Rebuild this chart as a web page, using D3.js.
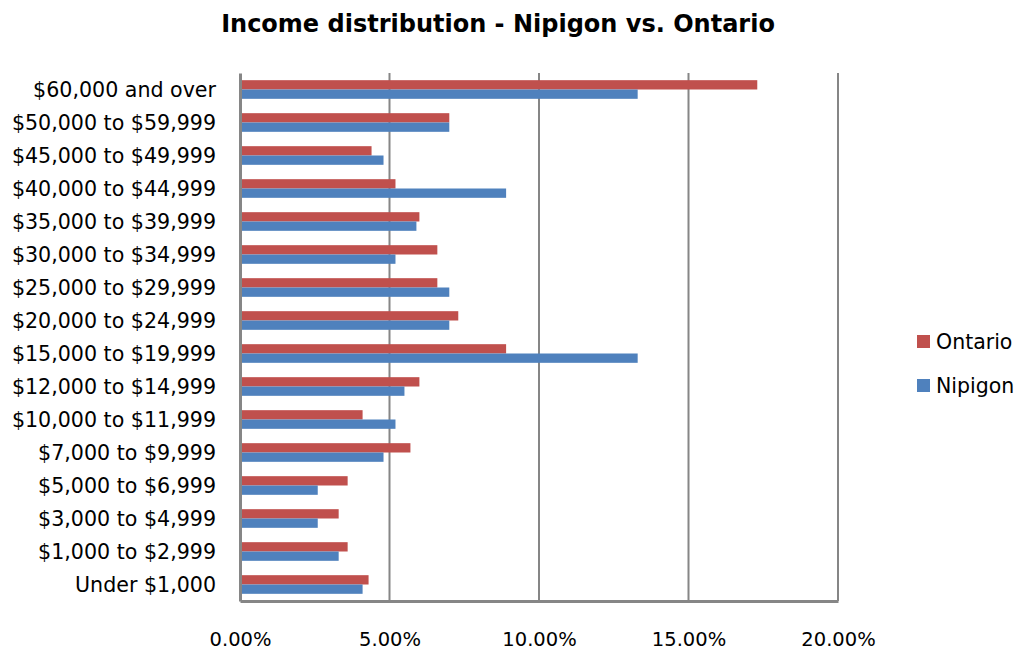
<!DOCTYPE html>
<html>
<head>
<meta charset="utf-8">
<script src="https://cdn.jsdelivr.net/npm/d3@7"></script>
<style>
  html, body { margin: 0; padding: 0; background: #fff; }
  svg { display: block; }
  text { font-family: "DejaVu Sans", sans-serif; fill: #000; }
</style>
</head>
<body>
<svg id="chart" width="1018" height="650"></svg>
<script>
// Income brackets, top to bottom as listed on the axis
const categories = [
  "$60,000 and over",
  "$50,000 to $59,999",
  "$45,000 to $49,999",
  "$40,000 to $44,999",
  "$35,000 to $39,999",
  "$30,000 to $34,999",
  "$25,000 to $29,999",
  "$20,000 to $24,999",
  "$15,000 to $19,999",
  "$12,000 to $14,999",
  "$10,000 to $11,999",
  "$7,000 to $9,999",
  "$5,000 to $6,999",
  "$3,000 to $4,999",
  "$1,000 to $2,999",
  "Under $1,000"
];

// Share of income recipients in each bracket (%)
const ontario = [17.3, 7.0, 4.4, 5.2, 6.0, 6.6, 6.6, 7.3, 8.9, 6.0, 4.1, 5.7, 3.6, 3.3, 3.6, 4.3];
const nipigon = [13.3, 7.0, 4.8, 8.9, 5.9, 5.2, 7.0, 7.0, 13.3, 5.5, 5.2, 4.8, 2.6, 2.6, 3.3, 4.1];

const seriesNames = ["Ontario", "Nipigon"];
const seriesColors = ["#C0504D", "#4F81BD"];
const tickValues = [0, 5, 10, 15, 20];

const svg = d3.select("#chart");
const plot = { left: 240, right: 838, top: 73, bottom: 601 };

const x = d3.scaleLinear().domain([0, 20]).range([plot.left, plot.right]);
const y = d3.scaleBand().domain(categories).range([plot.top, plot.bottom]).paddingInner(0).paddingOuter(0);
const sub = d3.scaleBand().domain(seriesNames).range([0, y.bandwidth()]).paddingInner(0).paddingOuter(0.77);

// Title
svg.append("text")
  .attr("x", 498).attr("y", 32)
  .attr("text-anchor", "middle")
  .style("font-size", "24px").style("font-weight", "bold")
  .text("Income distribution - Nipigon vs. Ontario");

// Vertical gridlines
svg.append("g").selectAll("line")
  .data(tickValues.slice(1))
  .join("line")
  .attr("x1", d => x(d)).attr("x2", d => x(d))
  .attr("y1", plot.top).attr("y2", plot.bottom)
  .attr("stroke", "#868686").attr("stroke-width", 2);

// Bars
const rows = categories.map((c, i) => ({ cat: c, values: [ontario[i], nipigon[i]] }));
const groups = svg.append("g").selectAll("g")
  .data(rows)
  .join("g")
  .attr("transform", d => `translate(0,${y(d.cat)})`);

groups.selectAll("rect")
  .data(d => d.values.map((v, j) => ({ name: seriesNames[j], v, color: seriesColors[j] })))
  .join("rect")
  .attr("x", x(0))
  .attr("y", d => sub(d.name))
  .attr("width", d => x(d.v) - x(0))
  .attr("height", sub.bandwidth())
  .attr("fill", d => d.color);

// Left axis with category labels
const yAxis = svg.append("g")
  .attr("transform", `translate(${plot.left},0)`)
  .call(d3.axisLeft(y).tickSize(0).tickPadding(24));
yAxis.select(".domain").attr("stroke", "#868686").attr("stroke-width", 3);
yAxis.selectAll("text").style("font-size", "20.6px").attr("dy", "0.35em");

// Bottom axis
const xAxis = svg.append("g")
  .attr("transform", `translate(0,${plot.bottom})`)
  .call(d3.axisBottom(x).tickValues(tickValues).tickSize(0).tickPadding(31)
    .tickFormat(d => d3.format(".2f")(d) + "%"));
xAxis.select(".domain").attr("stroke", "#868686").attr("stroke-width", 3);
xAxis.selectAll("text").style("font-size", "19.5px");

// Legend
const legend = svg.append("g").attr("transform", "translate(917,335)");
seriesNames.forEach((name, i) => {
  const g = legend.append("g").attr("transform", `translate(0,${i * 44})`);
  g.append("rect").attr("width", 13).attr("height", 13).attr("fill", seriesColors[i]);
  g.append("text").attr("x", 19).attr("y", 7).attr("dy", "0.35em")
    .style("font-size", "20.5px").text(name);
});
</script>
</body>
</html>
